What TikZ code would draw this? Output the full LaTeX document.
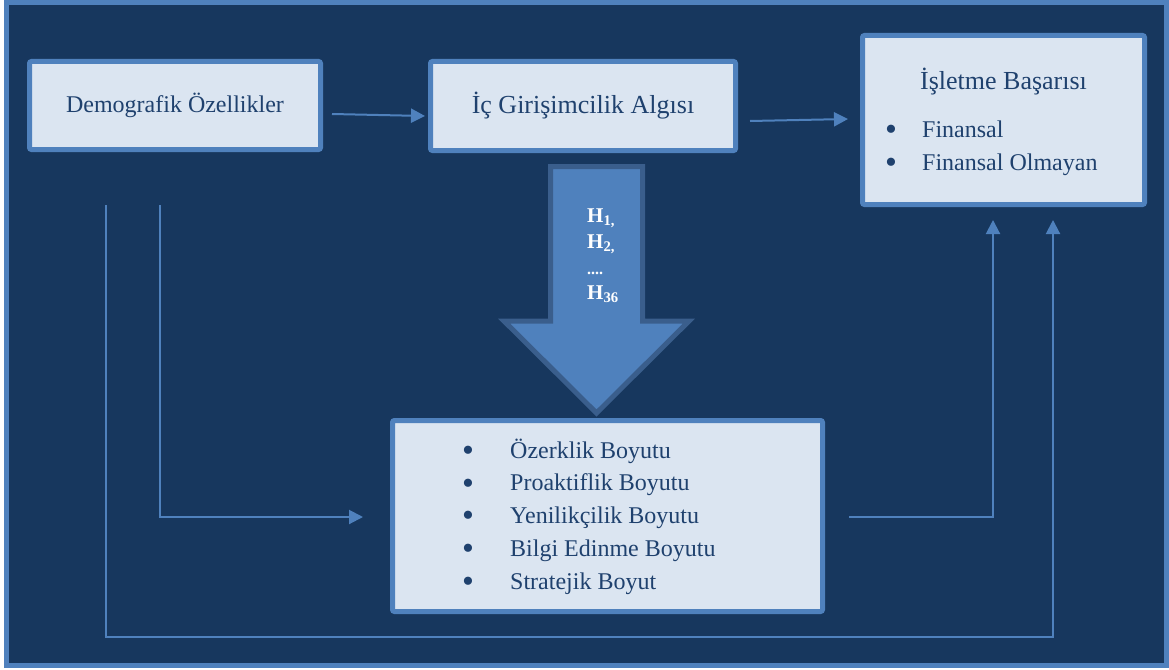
\documentclass[tikz,border=0pt]{standalone}
\usepackage{fontspec}
\setmainfont{Liberation Serif}
\usetikzlibrary{arrows.meta}
\definecolor{navy}{HTML}{17375E}
\definecolor{accent}{HTML}{4F81BD}
\definecolor{boxfill}{HTML}{DBE5F1}
\definecolor{txt}{HTML}{1F416E}
\definecolor{arrowedge}{HTML}{3A5E8C}
\newcommand{\bigbul}[1]{\makebox[#1][l]{\raisebox{-3.2pt}{\smash{\fontsize{34}{34}\selectfont •}}}}
\tikzset{
  box/.style={draw=accent, line width=5, fill=boxfill, rounded corners=2, inner sep=0, text=txt},
  conn/.style={draw=accent, line width=2, -{Triangle[length=14pt,width=14pt]}},
  lbl/.style={text=txt, inner sep=0},
}
\begin{document}
\begin{tikzpicture}[x=1pt,y=-1pt]
\useasboundingbox (0,0) rectangle (1169,669);
\fill[white] (0,0) rectangle (1169,669);
% outer frame
\draw[line width=5, draw=accent, fill=navy] (6.5,2.5) rectangle (1166.5,665.5);

% boxes
\node[box, minimum width=291, minimum height=88, font=\fontsize{24}{28}\selectfont] (demo) at (175,105.5) {Demografik Özellikler};
\node[box, minimum width=305, minimum height=89, font=\fontsize{26}{30}\selectfont] (ic) at (583,106) {İç Girişimcilik Algısı};
\node[box, minimum width=282, minimum height=169] (basari) at (1003.5,120) {};
\node[box, minimum width=430, minimum height=191] (dim) at (607.5,516) {};

% İşletme Başarısı contents
\node[lbl, font=\fontsize{26}{30}\selectfont] (basarititle) at (1003.5,82) {İşletme Başarısı};
\node[lbl, anchor=west, align=left, font=\fontsize{24}{33}\selectfont] (basarilist) at (885,148.5)
  {\bigbul{37pt}Finansal\\\bigbul{37pt}Finansal Olmayan};

% dimensions list
\node[lbl, anchor=west, align=left, font=\fontsize{24}{32.75}\selectfont] (dimlist) at (462,516.5)
  {\bigbul{48pt}Özerklik Boyutu\\
   \bigbul{48pt}Proaktiflik Boyutu\\
   \bigbul{48pt}Yenilikçilik Boyutu\\
   \bigbul{48pt}Bilgi Edinme Boyutu\\
   \bigbul{48pt}Stratejik Boyut};

% big down arrow
\draw[line width=5, draw=arrowedge, fill=accent, line join=miter]
  (550.5,166.5) -- (642.5,166.5) -- (642.5,321) -- (689,321) -- (596.5,413)
  -- (504,321) -- (550.5,321) -- cycle;
\node[inner sep=0, anchor=west, align=left, text=white, font=\bfseries\fontsize{21}{25.7}\selectfont] (hyp) at (587,256)
  {H\textsubscript{1,}\\H\textsubscript{2,}\\{\fontsize{16}{16}\selectfont ....}\\H\textsubscript{36}};

% connectors
\coordinate (a1s) at (332,114);
\coordinate (a1e) at (425,116);
\draw[conn] (a1s) -- (a1e);
\coordinate (a2s) at (750,121);
\coordinate (a2e) at (848,119);
\draw[conn] (a2s) -- (a2e);

\coordinate (l1top) at (106,205);
\coordinate (l1bot) at (106,637);
\coordinate (r2bot) at (1053,637);
\coordinate (r2tip) at (1053,220);
\draw[conn] (l1top) -- (l1bot) -- (r2bot) -- (r2tip);

\coordinate (l2top) at (160,205);
\coordinate (l2bot) at (160,517);
\coordinate (l2tip) at (363,517);
\draw[conn] (l2top) -- (l2bot) -- (l2tip);

\coordinate (b1s) at (849,517);
\coordinate (b1c) at (993,517);
\coordinate (b1tip) at (993,220);
\draw[conn] (b1s) -- (b1c) -- (b1tip);
\end{tikzpicture}
\end{document}
